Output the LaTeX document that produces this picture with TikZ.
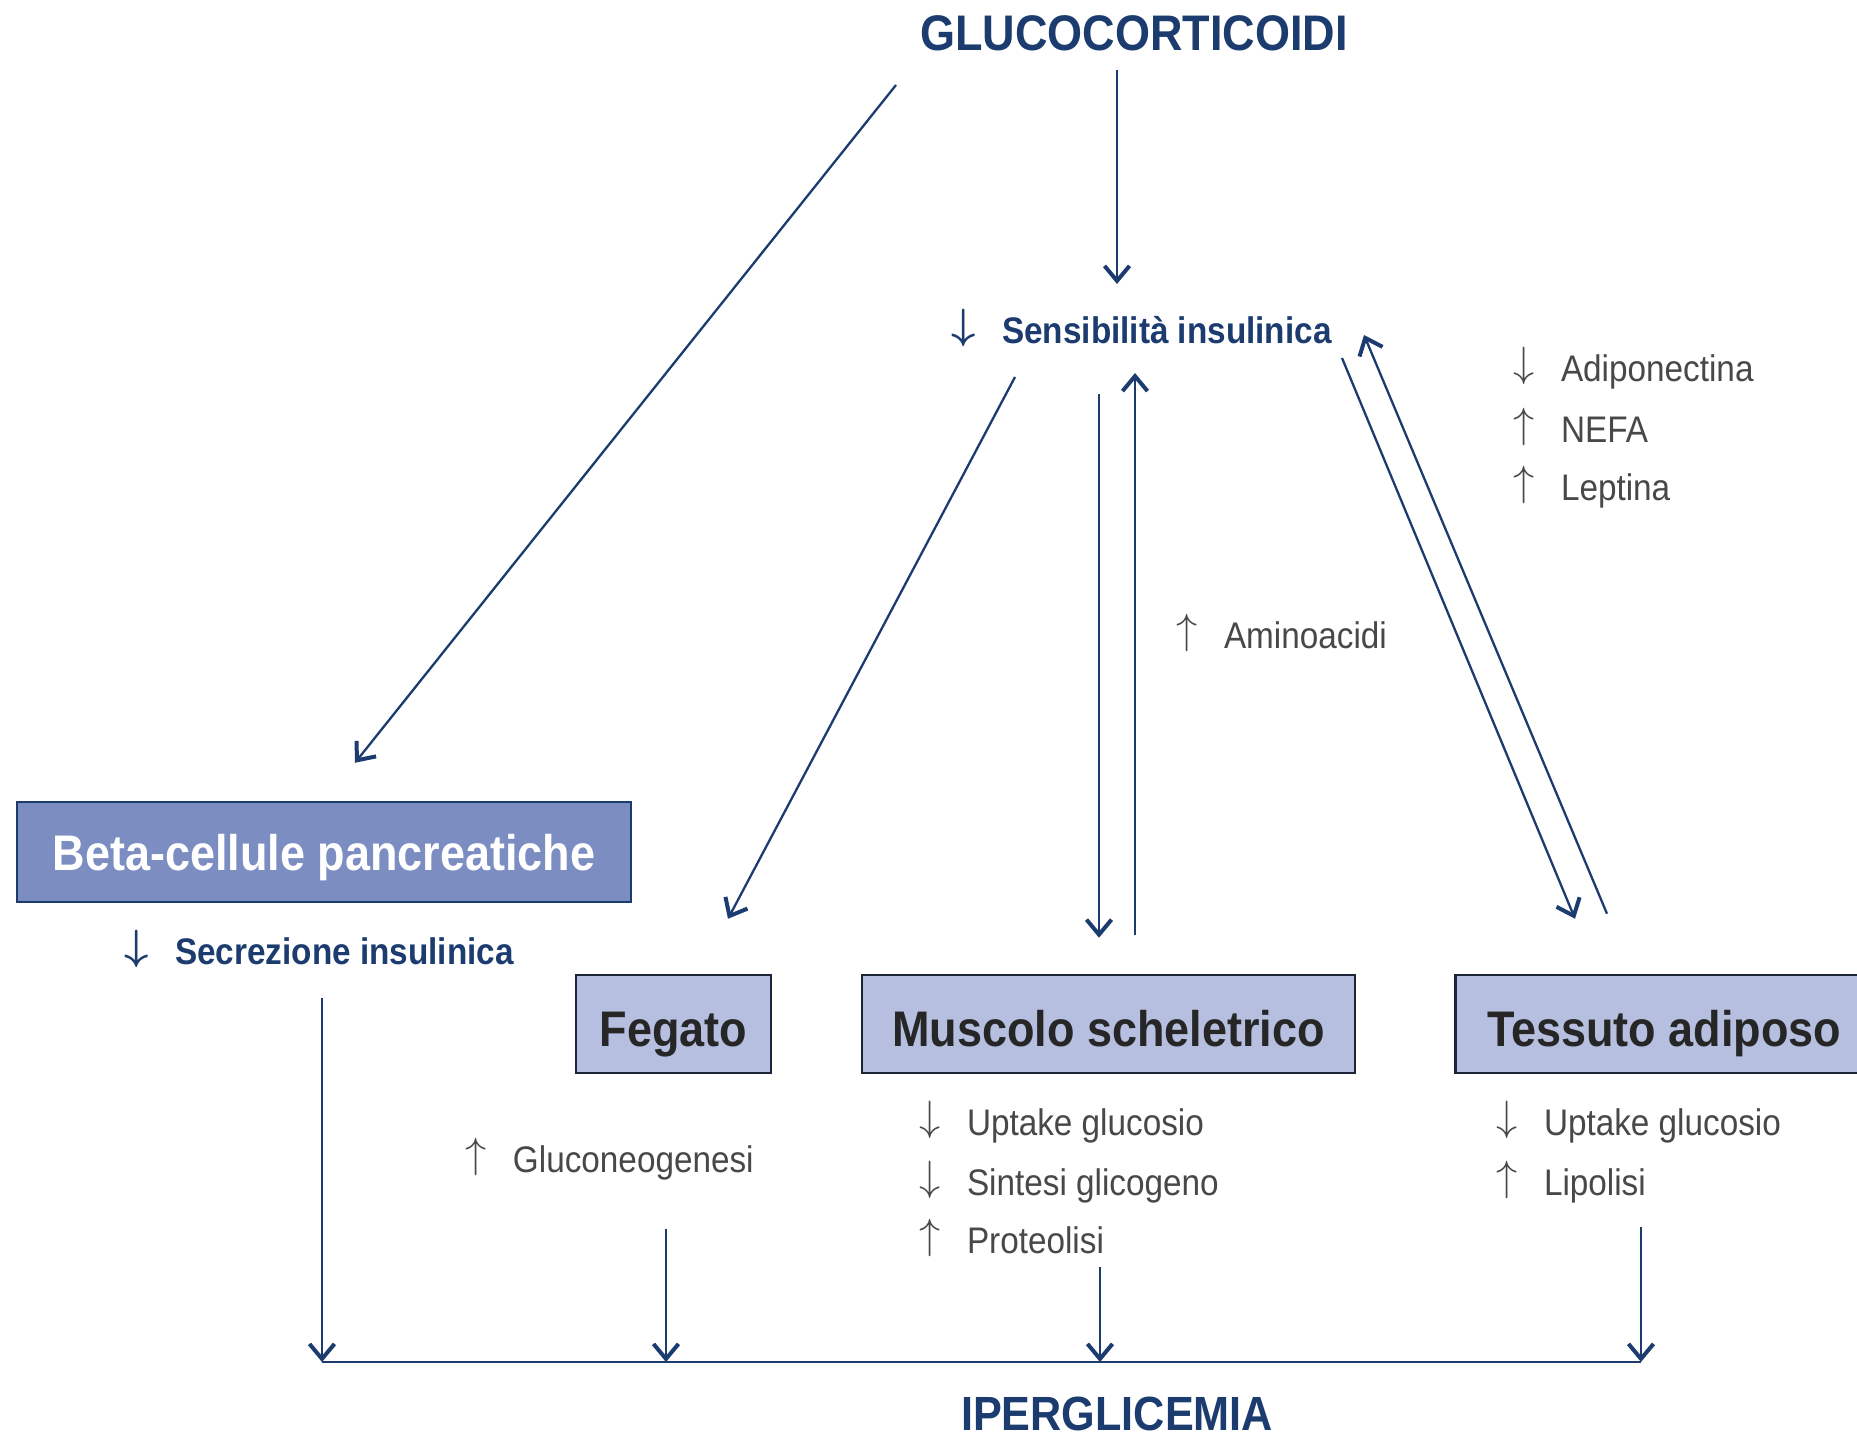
\documentclass[tikz,border=0pt]{standalone}
\usepackage{amsmath}
\usepackage{fontspec}
\setmainfont{Liberation Sans}[FakeStretch=0.9]
\usepackage{tikz}
\usetikzlibrary{positioning,calc,arrows.meta}
\definecolor{bluNotte}{RGB}{28,60,112}
\definecolor{bluBox}{RGB}{124,141,194}
\definecolor{lavanda}{RGB}{182,191,223}
\definecolor{grigioTesto}{RGB}{72,72,72}
\definecolor{bordoBox}{RGB}{30,36,56}

% frecce di aumento / diminuzione davanti alle voci
\newcommand{\freccina}[1]{\raisebox{4.5pt}{\scalebox{1.7}{$#1$}}\hspace{.72em}}
\newcommand{\cala}{\freccina{\downarrow}}
\newcommand{\aumenta}{\freccina{\uparrow}}
\newcommand{\calaB}{\freccina{\boldsymbol{\downarrow}}}

\tikzset{
  titolo/.style={inner sep=0pt, text height=36pt, text depth=0pt, text=bluNotte,
    font=\bfseries\fontsize{50}{60}\selectfont},
  effetto/.style={inner sep=0pt, text height=26.5pt, text depth=0pt, anchor=west, text=bluNotte,
    font=\bfseries\fontsize{37}{44}\selectfont},
  voce/.style={inner sep=0pt, text height=26.5pt, text depth=0pt, anchor=west, text=grigioTesto,
    font=\fontsize{37}{44}\selectfont},
  organo/.style={draw=bordoBox, line width=2.5pt, fill=lavanda, minimum height=98pt,
    text height=44pt, text depth=0pt, text=black!85, font=\bfseries\fontsize{50}{60}\selectfont},
  freccia/.style={->, line width=2.3pt, draw=bluNotte},
}

\begin{document}
\begin{tikzpicture}[x=1pt, y=-1pt, >={Straight Barb[length=15pt,width=25pt,line width=4pt]}]
  \path[fill=white, use as bounding box] (0,0) rectangle (1857,1440);

  % Titoli
  \node[titolo] (glu) at (1134,32) {GLUCOCORTICOIDI};
  \node[titolo, font=\bfseries\fontsize{48}{58}\selectfont] (iper) at (1117,1412) {IPERGLICEMIA};
  \node[effetto] (sens) at (951,330) {\calaB Sensibilità insulinica};
  \node[effetto] (secr) at (124,951) {\calaB Secrezione insulinica};

  % Organi
  \node[organo, fill=bluBox, draw=bluNotte, text=white, minimum width=614pt, minimum height=100pt,
    text height=36pt] (beta) at (324,852) {Beta-cellule pancreatiche};
  \node[organo, minimum width=195pt] (feg) at (673.5,1024) {Fegato};
  \node[organo, minimum width=493pt] (musc) at (1108.5,1024) {Muscolo scheletrico};
  \node[organo, anchor=west, inner xsep=32pt]
    (tess) at (1454,1024) {\makebox[400pt][l]{Tessuto adiposo}};

  % Effetti
  \foreach \i/\y/\txt in {1/368/{\cala Adiponectina}, 2/429/{\aumenta NEFA}, 3/487/{\aumenta Leptina}}
    \node[voce] (adp\i) at (1513,\y) {\txt};
  \node[voce] (amino) at (1176,635) {\aumenta Aminoacidi};
  \node[voce] (gluco) at (465,1159) {\aumenta Gluconeogenesi};
  \foreach \i/\y/\txt in {1/1122/{\cala Uptake glucosio}, 2/1182/{\cala Sintesi glicogeno}, 3/1240/{\aumenta Proteolisi}}
    \node[voce] (mu\i) at (919,\y) {\txt};
  \foreach \i/\y/\txt in {1/1122/{\cala Uptake glucosio}, 2/1182/{\aumenta Lipolisi}}
    \node[voce] (ad\i) at (1496,\y) {\txt};

  % Frecce verso la sensibilita insulinica e gli organi
  \draw[freccia] ($(glu.center)+(-17,38)$) -- ($(sens.west)+(166,-46)$);
  \draw[freccia] ($(glu.center)+(-238,53)$) -- ($(beta.north)+(31,-38)$);
  \draw[freccia] ($(sens.west)+(64,47)$) -- ($(feg.north)+(54.5,-55)$);
  \draw[freccia] ($(sens.west)+(148,64)$) -- ($(musc.north)+(-9.5,-36)$);
  \draw[freccia] ($(musc.north)+(26.5,-39)$) -- ($(sens.west)+(184,43)$);
  \draw[freccia] ($(sens.west)+(391,28)$) -- ($(tess.north west)+(121,-55)$);
  \draw[freccia] ($(tess.north west)+(153,-60)$) -- ($(sens.west)+(413,5)$);

  % Convergenza verso l'iperglicemia
  \coordinate (bus) at ($(iper.center)+(0,-50)$);
  \coordinate (daBeta) at ($(secr.west)+(198,47)$);
  \coordinate (daFeg) at ($(gluco.west)+(201,70)$);
  \coordinate (daMusc) at ($(mu3.west)+(181,27)$);
  \coordinate (daTess) at ($(ad2.west)+(145,45)$);
  \draw[line width=2.5pt, bluNotte] (daBeta |- bus) -- (daTess |- bus);
  \foreach \c in {daBeta, daFeg, daMusc, daTess}
    \draw[freccia] (\c) -- (\c |- bus);
\end{tikzpicture}
\end{document}
